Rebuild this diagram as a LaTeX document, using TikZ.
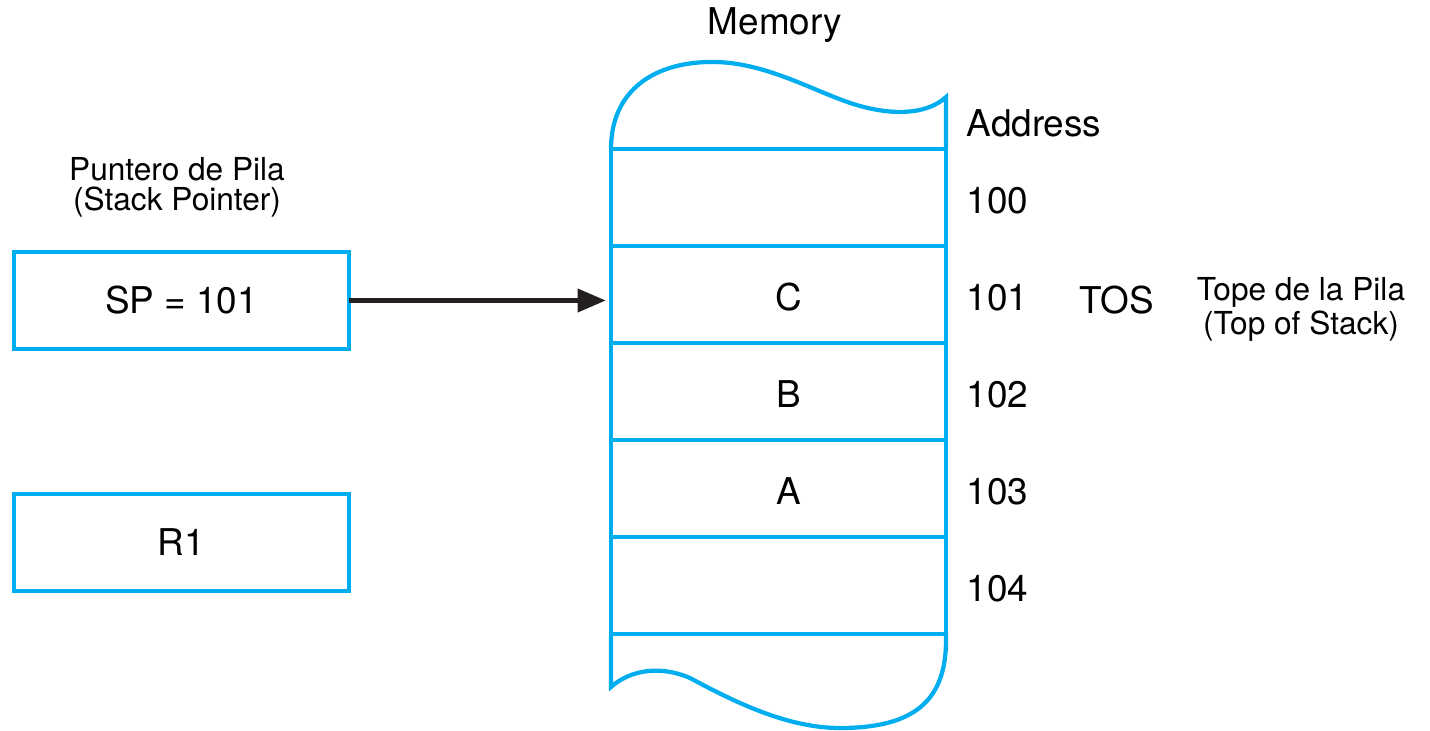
\documentclass[tikz,border=0pt]{standalone}
\usepackage{fontspec}
\setmainfont{TeX Gyre Heros}
\usetikzlibrary{arrows.meta,positioning}
\definecolor{memblue}{RGB}{0,174,239}
\definecolor{arrowblack}{RGB}{35,31,32}

\begin{document}
\begin{tikzpicture}[scale=1.0,
  cell/.style={draw=memblue,line width=1.2pt,minimum width=3.35cm,minimum height=0.97cm,
    outer sep=0pt,inner sep=0pt,font=\fontsize{10.5}{12}\selectfont},
  addr/.style={anchor=west,inner sep=0pt,font=\fontsize{10.5}{12}\selectfont},
  bigtext/.style={font=\fontsize{10.5}{12}\selectfont},
  smalltext/.style={align=center,font=\fontsize{9}{8.6}\selectfont}]
\useasboundingbox (0,0) rectangle (14.3,7.3);
\node[cell] (m100) at (7.785,5.325) {};
\node[cell,label={[bigtext,xshift=0.105cm,yshift=-0.03cm]center:C}] (m101) at (7.785,4.355) {};
\node[cell,label={[bigtext,xshift=0.105cm,yshift=-0.03cm]center:B}] (m102) at (7.785,3.385) {};
\node[cell,label={[bigtext,xshift=0.105cm,yshift=-0.03cm]center:A}] (m103) at (7.785,2.415) {};
\node[cell] (m104) at (7.785,1.445) {};
\foreach \a in {100,101,102,103,104}
  \node[addr,right=0.2cm of m\a,yshift=-0.03cm] (a\a) {\a};
\node[addr] (addr) at (9.66,6.07) {Address};
\node[bigtext] (mem) at (7.75,7.05) {Memory};
\draw [memblue,line width=1.2pt] (m100.north west) .. controls (6.11,6.40) and (6.55,6.69) .. (7.15,6.68)
  .. controls (7.70,6.67) and (8.20,6.35) .. (8.60,6.24)
  .. controls (9.00,6.13) and (9.30,6.18) .. (9.46,6.33) -- (m100.north east);
\draw [memblue,line width=1.2pt] (m104.south west) -- (6.11,0.43) .. controls (6.30,0.60) and (6.60,0.65) .. (6.90,0.52)
  .. controls (7.40,0.25) and (7.90,0.02) .. (8.40,0.02)
  .. controls (9.15,0.02) and (9.46,0.30) .. (9.46,0.90) -- (m104.south east);
\node[cell] (sp) at (1.815,4.295) {SP = 101};
\node[cell] (r1) at (1.815,1.875) {R1};
\node[smalltext] (spl) at (1.77,5.43) {Puntero de Pila\\(Stack Pointer)};
\node[bigtext] (tos) at (11.17,4.30) {TOS};
\node[smalltext] (tosl) at (13.01,4.21) {Tope de la Pila\\(Top of Stack)};
\draw [arrowblack,line width=1.3pt,-{Triangle[length=8pt,width=6.5pt]},shorten >=1.5pt] (sp.east) -- (sp.east -| m101.west);
\end{tikzpicture}
\end{document}
